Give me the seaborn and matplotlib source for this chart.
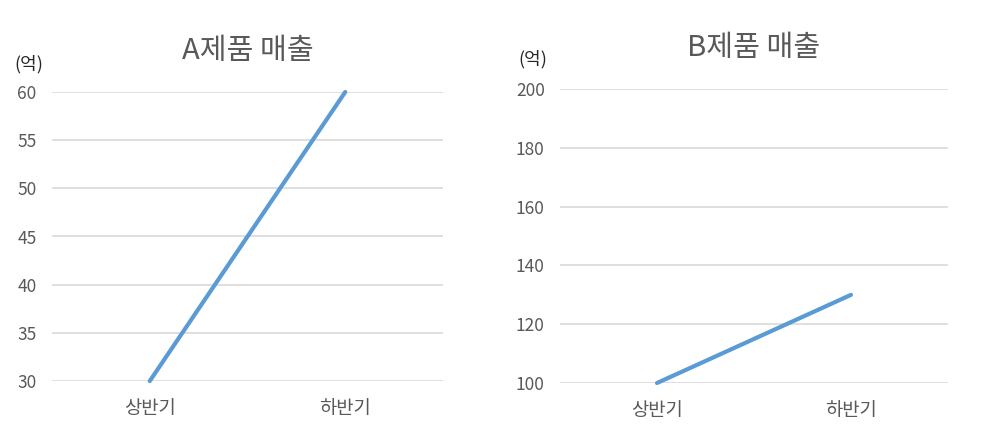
import pandas as pd

import matplotlib.pyplot as plt

import seaborn as sns

periods = ["상반기", "하반기"]

sales_a = [30, 60]

sales_b = [100, 130]

titles = ["A제품 매출", "B제품 매출"]

unit_label = "(억)"

yticks_a = [30, 35, 40, 45, 50, 55, 60]

yticks_b = [100, 120, 140, 160, 180, 200]

sns.set_style("white")

plt.rcParams["font.family"] = ["Noto Sans CJK KR", "DejaVu Sans"]

text_color = "#595959"
line_color = "#5B9BD5"
grid_color = "#D9D9D9"

fig = plt.figure(figsize=(9.94, 4.4), dpi=100)

ax_a = fig.add_axes([0.0523, 0.134, 0.3934, 0.657])
ax_b = fig.add_axes([0.5634, 0.1295, 0.3903, 0.668])

panels = [
    (ax_a, sales_a, yticks_a, titles[0]),
    (ax_b, sales_b, yticks_b, titles[1]),
]

for ax, values, yticks, title in panels:

    df = pd.DataFrame({"period": periods, "sales": values})

    sns.lineplot(
        data=df,
        x="period",
        y="sales",
        ax=ax,
        color=line_color,
        linewidth=3,
        sort=False
    )

    ax.set_xlim(-0.5, 1.5)
    ax.set_ylim(yticks[0], yticks[-1])
    ax.set_yticks(yticks)

    ax.grid(axis="y", color=grid_color, linewidth=1.2)
    ax.grid(axis="x", visible=False)
    ax.set_axisbelow(True)

    for spine in ax.spines.values():
        spine.set_visible(False)

    ax.tick_params(axis="y", length=0, pad=11, labelsize=12.5, labelcolor=text_color)
    ax.tick_params(axis="x", length=0, pad=12, labelsize=13.5, labelcolor=text_color)

    ax.set_xlabel("")
    ax.set_ylabel("")

    ax.set_title(title, fontsize=21, color=text_color, pad=24)

    for line in ax.get_lines():
        line.set_clip_on(False)

fig.text(0.014, 0.843, unit_label, fontsize=13, color="#262626")
fig.text(0.522, 0.853, unit_label, fontsize=13, color="#262626")

plt.savefig("out.png", dpi=100)
